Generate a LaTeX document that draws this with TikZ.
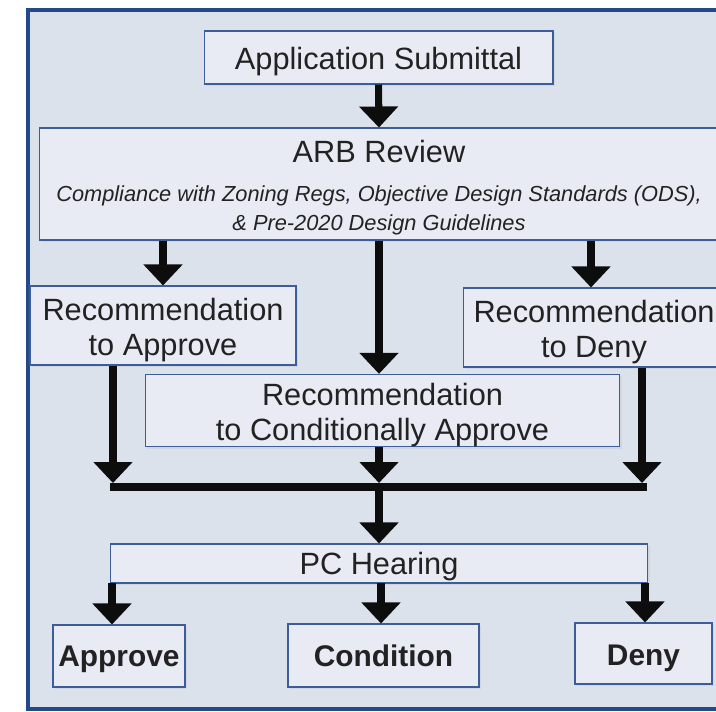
\documentclass[tikz,border=0pt]{standalone}
\usepackage{fontspec}
\setmainfont{Liberation Sans}
\usepackage{tikz}
\usetikzlibrary{positioning, arrows.meta, shadows}

\definecolor{frameblue}{HTML}{23498B}
\definecolor{panel}{HTML}{DCE2EC}
\definecolor{boxfill}{HTML}{E8EBF4}
\definecolor{boxline}{HTML}{3D5C9A}
\definecolor{ink}{HTML}{222222}

\newcommand{\capstrut}{\rule{0pt}{17.5pt}}

\begin{document}
\begin{tikzpicture}[
    x=0.02cm, y=-0.02cm,
    every node/.style={font=\fontsize{17.5}{20}\selectfont, text=ink},
    stage/.style={rectangle, draw=boxline, line width=0.6pt, fill=boxfill, inner sep=0pt, align=center,
        drop shadow={opacity=0.12, shadow xshift=1.2pt, shadow yshift=-1.2pt}},
    outcome/.style={stage, font=\fontsize{17}{20}\selectfont\bfseries},
    arrow/.style={-{Triangle[width=0.76cm, length=0.42cm]}, line width=4pt, black!95},
    bar/.style={line width=4pt, black!95},
]

% Frame
\useasboundingbox (0,0) rectangle (716,711);
\draw[draw=frameblue, line width=2.3pt, fill=panel] (28,10) rectangle (760,709);

% Review stages
\node[stage, minimum width=6.98cm, minimum height=1.06cm] (submit) at (378.5,57.5) {\capstrut Application Submittal};
\node[stage, minimum width=13.6cm, minimum height=2.24cm] (arb) at (379,184)
    {\rule{0pt}{17pt}ARB Review\\[2pt]
     {\fontsize{12.4}{15.3}\selectfont\itshape Compliance with Zoning Regs, Objective Design Standards (ODS),}\\[-3pt]
     {\fontsize{12.4}{15.3}\selectfont\itshape \& Pre-2020 Design Guidelines}};

% Recommendations
\node[stage, minimum width=5.32cm, minimum height=1.58cm] (recApprove) at (163,325.5) {\capstrut Recommendation\\to Approve};
\node[stage, minimum width=5.24cm, minimum height=1.58cm] (recDeny) at (594,327.5) {\capstrut Recommendation\\to Deny};
\node[stage, minimum width=9.5cm, minimum height=1.38cm] (recCond) at (382.5,410.5) {\capstrut Recommendation\\to Conditionally Approve};

% Hearing and outcomes
\node[stage, minimum width=10.76cm, minimum height=0.78cm] (hearing) at (379,563.5) {\rule{0pt}{16pt}PC Hearing};
\node[outcome, minimum width=2.64cm, minimum height=1.24cm] (approve) at (119,656) {\rule{0pt}{15pt}Approve};
\node[outcome, minimum width=3.82cm, minimum height=1.26cm] (condition) at (383.5,655.5) {Condition};
\node[outcome, minimum width=2.74cm, minimum height=1.22cm] (deny) at (643.5,653.5) {\capstrut Deny};

% Merge bar
\coordinate (barL) at (110,487);
\coordinate (barR) at (647,487);
\coordinate (dropA) at (113,483);
\coordinate (dropC) at (379,483);
\coordinate (dropD) at (642,483);
\coordinate (outA) at (112,583);
\coordinate (outC) at (381,583);
\coordinate (outD) at (645,583);
\draw[bar] (barL) -- (barR);

% Arrows
\draw[arrow] (submit.south) -- (arb.north);
\draw[arrow] (recApprove.north |- arb.south) -- (recApprove.north);
\draw[arrow] ([xshift=-0.06cm]recDeny.north |- arb.south) -- ([xshift=-0.06cm]recDeny.north);
\draw[arrow] (arb.south) -- (arb.south |- recCond.north);
\draw[arrow] (recApprove.south -| dropA) -- (dropA);
\draw[arrow] (recCond.south -| dropC) -- (dropC);
\draw[arrow] (recDeny.south -| dropD) -- (dropD);
\draw[arrow] (dropC |- barL) -- (hearing.north);
\draw[arrow] (outA) -- (outA |- approve.north);
\draw[arrow] (outC) -- (outC |- condition.north);
\draw[arrow] (outD) -- (outD |- deny.north);

\end{tikzpicture}
\end{document}
